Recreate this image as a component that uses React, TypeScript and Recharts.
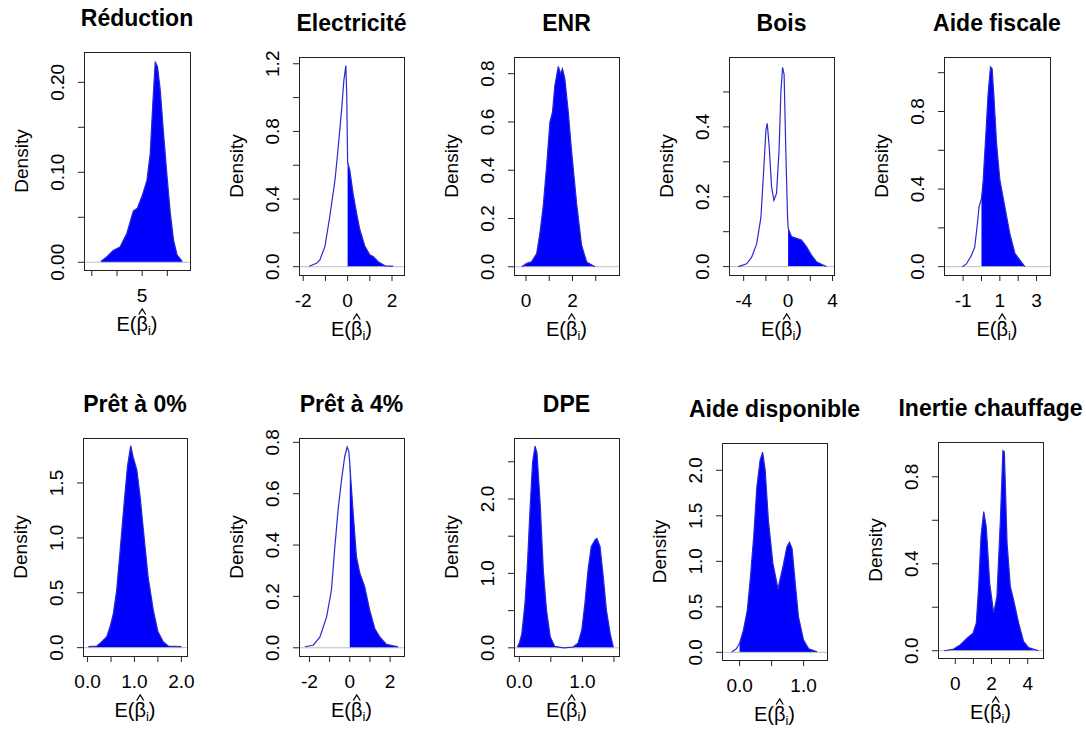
import { ComposedChart, Area, Line, XAxis, YAxis, ReferenceLine } from 'recharts';

const titles = [
  'Réduction', 'Electricité', 'ENR', 'Bois', 'Aide fiscale',
  'Prêt à 0%', 'Prêt à 4%', 'DPE', 'Aide disponible', 'Inertie chauffage',
];

// density curves, [x, density]
const reduction = [[3.36, 0.001], [3.59, 0.006], [3.85, 0.013], [4.12, 0.017], [4.39, 0.032], [4.65, 0.057], [4.81, 0.06], [4.99, 0.073], [5.19, 0.091], [5.32, 0.121], [5.43, 0.18], [5.52, 0.223], [5.61, 0.217], [5.72, 0.191], [5.85, 0.143], [5.99, 0.095], [6.12, 0.054], [6.25, 0.024], [6.39, 0.008], [6.59, 0.001]];
const electricite = [[-1.73, 0.003], [-1.4, 0.02], [-1.25, 0.04], [-1.02, 0.12], [-0.8, 0.3], [-0.57, 0.51], [-0.42, 0.71], [-0.27, 0.93], [-0.17, 1.1], [-0.08, 1.19], [-0.04, 1.02], [0, 0.62], [0.1, 0.57], [0.25, 0.43], [0.4, 0.32], [0.55, 0.22], [0.78, 0.12], [1.0, 0.07], [1.15, 0.06], [1.38, 0.03], [1.68, 0.005], [2.05, 0.003]];
const enr = [[-0.18, 0], [0.03, 0.014], [0.24, 0.021], [0.46, 0.055], [0.6, 0.14], [0.74, 0.25], [0.89, 0.42], [1.03, 0.6], [1.14, 0.64], [1.24, 0.75], [1.39, 0.83], [1.49, 0.8], [1.57, 0.82], [1.67, 0.78], [1.82, 0.64], [1.96, 0.48], [2.18, 0.26], [2.39, 0.09], [2.61, 0.02], [2.97, 0]];
const bois = [[-4.48, 0], [-3.73, 0.008], [-3.28, 0.027], [-2.83, 0.065], [-2.45, 0.14], [-2.18, 0.286], [-2.0, 0.39], [-1.88, 0.41], [-1.7, 0.343], [-1.49, 0.229], [-1.28, 0.19], [-1.04, 0.21], [-0.81, 0.336], [-0.65, 0.5], [-0.5, 0.57], [-0.36, 0.55], [-0.21, 0.336], [-0.05, 0.143], [0, 0.11], [0.3, 0.086], [0.75, 0.081], [1.2, 0.076], [1.65, 0.057], [2.1, 0.033], [2.55, 0.014], [3.0, 0.007], [3.44, 0]];
const aideFiscale = [[-1.04, 0], [-0.82, 0.014], [-0.55, 0.057], [-0.37, 0.1], [-0.24, 0.206], [-0.13, 0.31], [0, 0.35], [0.09, 0.44], [0.24, 0.687], [0.36, 0.89], [0.49, 1.03], [0.58, 1.02], [0.67, 0.89], [0.82, 0.636], [1.0, 0.447], [1.27, 0.31], [1.54, 0.172], [1.82, 0.069], [2.09, 0.034], [2.36, 0]];
const pret0 = [[0.02, 0.009], [0.2, 0.015], [0.305, 0.055], [0.41, 0.1], [0.48, 0.19], [0.55, 0.31], [0.62, 0.52], [0.69, 0.861], [0.78, 1.317], [0.85, 1.65], [0.92, 1.84], [0.97, 1.74], [1.05, 1.62], [1.12, 1.378], [1.19, 1.074], [1.29, 0.648], [1.4, 0.344], [1.5, 0.146], [1.61, 0.055], [1.72, 0.015], [2.0, 0.009]];
const pret4 = [[-2.23, 0.004], [-1.82, 0.01], [-1.49, 0.04], [-1.15, 0.12], [-0.91, 0.225], [-0.74, 0.394], [-0.58, 0.537], [-0.41, 0.654], [-0.25, 0.745], [-0.13, 0.782], [-0.05, 0.765], [0, 0.72], [0.03, 0.68], [0.17, 0.524], [0.33, 0.355], [0.5, 0.29], [0.74, 0.238], [0.99, 0.146], [1.24, 0.075], [1.49, 0.042], [1.82, 0.013], [2.4, 0.004]];
const dpe = [[-0.03, 0.013], [0, 0.06], [0.04, 0.19], [0.09, 0.6], [0.13, 1.14], [0.17, 1.86], [0.21, 2.49], [0.25, 2.71], [0.28, 2.62], [0.33, 1.95], [0.38, 1.05], [0.43, 0.51], [0.49, 0.15], [0.56, 0.02], [0.7, 0], [0.85, 0.01], [0.93, 0.06], [0.99, 0.24], [1.04, 0.6], [1.09, 1.05], [1.14, 1.36], [1.2, 1.45], [1.23, 1.47], [1.28, 1.36], [1.33, 0.96], [1.38, 0.51], [1.44, 0.19], [1.49, 0.01]];
const aideDispo = [[-0.12, 0.007], [-0.05, 0.04], [0, 0.1], [0.06, 0.245], [0.12, 0.46], [0.17, 0.83], [0.22, 1.27], [0.27, 1.82], [0.32, 2.11], [0.36, 2.2], [0.4, 2.0], [0.45, 1.45], [0.52, 0.98], [0.6, 0.7], [0.68, 0.95], [0.74, 1.16], [0.78, 1.21], [0.82, 1.14], [0.87, 0.76], [0.92, 0.39], [1.0, 0.135], [1.08, 0.04], [1.21, 0.007]];
const inertie = [[-0.61, 0], [-0.09, 0.008], [0.28, 0.028], [0.65, 0.058], [0.98, 0.081], [1.16, 0.127], [1.29, 0.295], [1.42, 0.525], [1.57, 0.64], [1.71, 0.57], [1.9, 0.31], [2.12, 0.173], [2.3, 0.25], [2.49, 0.6], [2.63, 0.92], [2.71, 0.915], [2.86, 0.494], [3.04, 0.295], [3.22, 0.234], [3.5, 0.127], [3.77, 0.043], [4.05, 0.014], [4.6, 0]];

const densities = [reduction, electricite, enr, bois, aideFiscale, pret0, pret4, dpe, aideDispo, inertie];

// shading starts at this x (null = whole curve shaded)
const fillFrom = [null, 0, null, 0, 0, null, 0, null, 0, null];

const xDomains = [[2.69, 6.9], [-2.19, 2.54], [-0.515, 4.0], [-5.32, 4.13], [-2.04, 3.73], [-0.097, 2.12], [-2.52, 2.69], [-0.084, 1.58], [-0.275, 1.366], [-0.956, 4.845]];
const yDomains = [[-0.0086, 0.2337], [-0.049, 1.24], [-0.034, 0.869], [-0.024, 0.6], [-0.043, 1.081], [-0.076, 1.91], [-0.032, 0.817], [-0.11, 2.82], [-0.084, 2.3], [-0.0335, 0.96]];

const xTicks = [[3, 4, 5, 6], [-2, -1, 0, 1, 2], [0, 1, 2, 3], [-4, -2, 0, 2, 4], [-1, 0, 1, 2, 3], [0, 0.5, 1, 1.5, 2], [-2, -1, 0, 1, 2], [0, 0.5, 1, 1.5], [0, 0.5, 1], [0, 1, 2, 3, 4]];
const xTickLabels = [['', '', '5', ''], ['-2', '', '0', '', '2'], ['0', '', '2', ''], ['-4', '', '0', '', '4'], ['-1', '', '1', '', '3'], ['0.0', '', '1.0', '', '2.0'], ['-2', '', '0', '', '2'], ['0.0', '', '1.0', ''], ['0.0', '', '1.0'], ['0', '', '2', '', '4']];

const yTicks = [[0, 0.05, 0.1, 0.15, 0.2], [0, 0.2, 0.4, 0.6, 0.8, 1.0, 1.2], [0, 0.2, 0.4, 0.6, 0.8], [0, 0.1, 0.2, 0.3, 0.4, 0.5], [0, 0.2, 0.4, 0.6, 0.8, 1.0], [0, 0.5, 1.0, 1.5], [0, 0.2, 0.4, 0.6, 0.8], [0, 0.5, 1.0, 1.5, 2.0, 2.5], [0, 0.5, 1.0, 1.5, 2.0], [0, 0.2, 0.4, 0.6, 0.8]];
const yTickLabels = [['0.00', '', '0.10', '', '0.20'], ['0.0', '', '0.4', '', '0.8', '', '1.2'], ['0.0', '0.2', '0.4', '0.6', '0.8'], ['0.0', '', '0.2', '', '0.4', ''], ['0.0', '', '0.4', '', '0.8', ''], ['0.0', '0.5', '1.0', '1.5'], ['0.0', '0.2', '0.4', '0.6', '0.8'], ['0.0', '', '1.0', '', '2.0', ''], ['0.0', '0.5', '1.0', '1.5', '2.0'], ['0.0', '', '0.4', '', '0.8']];

// plot box of each panel on the page: left, top, width, height
const boxes = [
  [84, 52, 106, 218], [299, 57, 105, 218], [514, 57, 105, 218], [729, 57, 105, 218], [944, 57, 106, 218],
  [83, 438, 104, 218], [299, 438, 105, 218], [514, 438, 105, 218], [722, 443, 105, 217], [938, 442, 105, 216],
];

const FONT = '"Liberation Sans", Arial, sans-serif';
const PAD_L = 80;
const PAD_T = 60;
const PAD_R = 20;
const PAD_B = 80;

function labelAt(ticks: number[], labels: string[], v: number) {
  const k = ticks.findIndex(t => Math.abs(t - v) < 1e-9);
  return k >= 0 ? labels[k] : '';
}

function Panel({ i }: { i: number }) {
  const [left, top, w, h] = boxes[i];
  const W = w + PAD_L + PAD_R;
  const H = h + PAD_T + PAD_B;
  const pts = densities[i].map(([x, y]) => ({ x, y }));
  const from = fillFrom[i];
  const shaded = from === null ? pts : pts.filter(p => p.x >= from);
  const cx = PAD_L + w / 2;
  const bottom = PAD_T + h;
  const lab = bottom + 61;
  // hat over the beta
  const hx = cx + 5.2;

  const xTick = (props: any) => {
    const t = labelAt(xTicks[i], xTickLabels[i], props.payload.value);
    if (!t) return <g />;
    return (
      <text x={props.x} y={bottom + 32} textAnchor="middle" fontSize={19} fontFamily={FONT} fill="#000">
        {t}
      </text>
    );
  };

  const yTick = (props: any) => {
    const t = labelAt(yTicks[i], yTickLabels[i], props.payload.value);
    if (!t) return <g />;
    return (
      <text transform={`translate(${PAD_L - 20},${props.y}) rotate(-90)`} textAnchor="middle" fontSize={19} fontFamily={FONT} fill="#000">
        {t}
      </text>
    );
  };

  return (
    <div style={{ position: 'absolute', left: left - PAD_L, top: top - PAD_T, width: W, height: H }}>
      <ComposedChart width={W} height={H} margin={{ top: PAD_T, right: PAD_R, bottom: PAD_B - 30, left: PAD_L - 60 }}>
        <XAxis
          type="number"
          dataKey="x"
          domain={xDomains[i]}
          ticks={xTicks[i]}
          interval={0}
          allowDataOverflow
          height={30}
          axisLine={false}
          tickLine={{ stroke: '#222' }}
          tickSize={6}
          tick={xTick}
        />
        <YAxis
          type="number"
          dataKey="y"
          domain={yDomains[i]}
          ticks={yTicks[i]}
          interval={0}
          allowDataOverflow
          width={60}
          axisLine={false}
          tickLine={{ stroke: '#222' }}
          tickSize={6}
          tick={yTick}
        />
        <ReferenceLine y={0} stroke="#BEBEBE" strokeWidth={1} />
        <Area
          data={shaded}
          dataKey="y"
          type="linear"
          fill="#0000FF"
          fillOpacity={1}
          stroke="none"
          baseValue={0}
          isAnimationActive={false}
        />
        <Line
          data={pts}
          dataKey="y"
          type="linear"
          stroke="#2a2ad0"
          strokeWidth={1.2}
          dot={false}
          isAnimationActive={false}
        />
      </ComposedChart>
      <svg width={W} height={H} style={{ position: 'absolute', left: 0, top: 0, overflow: 'visible', pointerEvents: 'none' }}>
        <rect x={PAD_L + 0.5} y={PAD_T + 0.5} width={w} height={h} fill="none" stroke="#222" strokeWidth={1} />
        <text x={cx} y={PAD_T - 26} textAnchor="middle" fontSize={23} fontWeight="bold" fontFamily={FONT} fill="#000">
          {titles[i]}
        </text>
        <text transform={`translate(${PAD_L - 56},${PAD_T + h / 2}) rotate(-90)`} textAnchor="middle" fontSize={19} fontFamily={FONT} fill="#000">
          Density
        </text>
        <text x={cx} y={lab} textAnchor="middle" fontSize={20} fontFamily={FONT} fill="#000">
          E(β<tspan dy={4} fontSize={13}>i</tspan>
          <tspan dy={-4}>)</tspan>
        </text>
        <path d={`M${hx - 3.5},${lab - 16.5} L${hx},${lab - 22} L${hx + 3.5},${lab - 16.5}`} fill="none" stroke="#000" strokeWidth={1.3} />
      </svg>
    </div>
  );
}

export default function App() {
  return (
    <div style={{ position: 'absolute', left: 0, top: 0, width: 1086, height: 731, overflow: 'hidden', background: '#fff' }}>
      {titles.map((_, i) => (
        <Panel key={i} i={i} />
      ))}
    </div>
  );
}
